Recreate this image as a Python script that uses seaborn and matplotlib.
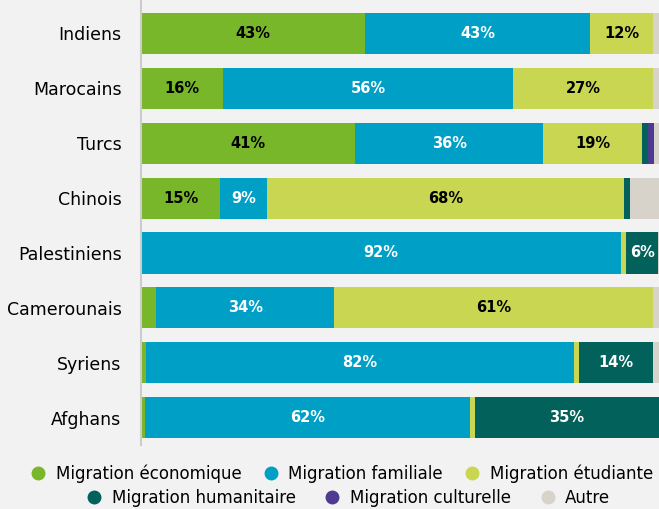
import pandas as pd
import matplotlib.pyplot as plt
import seaborn as sns
from matplotlib.lines import Line2D

# Data (share of first residence permits, %)
nationalities = ['Indiens', 'Marocains', 'Turcs', 'Chinois', 'Palestiniens',
                 'Camerounais', 'Syriens', 'Afghans']
categories = ['Migration économique', 'Migration familiale', 'Migration étudiante',
              'Migration humanitaire', 'Migration culturelle', 'Autre']
economique = [43.0, 15.7, 41.1, 15.2, 0.0, 2.9, 1.0, 0.8]
familiale = [43.2, 55.7, 36.1, 9.0, 92.1, 34.2, 82.1, 62.4]
etudiante = [12.1, 26.9, 19.0, 68.4, 1.0, 61.2, 1.0, 0.8]
humanitaire = [0.0, 0.0, 1.0, 1.2, 6.1, 0.0, 14.2, 35.4]
culturelle = [0.0, 0.0, 1.2, 0.0, 0.0, 0.0, 0.0, 0.0]
autre = [1.7, 1.7, 1.6, 6.2, 0.8, 1.7, 1.7, 0.6]

colors = ['#78B72A', '#00A0C6', '#C8D651', '#02625B', '#4F3A91', '#D7D2CA']
text_colors = ['black', 'white', 'black', 'white', 'white', 'black']

df = pd.DataFrame({'nat': nationalities})
series = [economique, familiale, etudiante, humanitaire, culturelle, autre]
for cat, vals in zip(categories, series):
    df[cat] = vals
cum = df[categories].cumsum(axis=1)

bg = '#F2F2F2'
fig = plt.figure(figsize=(6.59, 5.09), dpi=100, facecolor=bg)
ax = fig.add_axes([141 / 659, 1 - 445 / 509, 1 - 141 / 659, 445 / 509])
ax.set_facecolor(bg)

# stacked bars: draw cumulative totals from the last category backwards
for i in range(len(categories) - 1, -1, -1):
    sns.barplot(x=cum[categories[i]], y=df['nat'], orient='h', color=colors[i],
                width=0.75, saturation=1, ax=ax, edgecolor='none', linewidth=0)

# segment labels (no label on "Autre")
for i, cat in enumerate(categories[:5]):
    for j, v in enumerate(df[cat]):
        if v >= 5:
            ax.text(cum[cat][j] - v / 2, j, f'{round(v)}%', ha='center', va='center',
                    color=text_colors[i], fontsize=10.5, fontweight='bold')

ax.set_xlim(0, 99.4)
ax.set_ylim(7.5, -0.61)
ax.set_xlabel('')
ax.set_ylabel('')
ax.set_xticks([])
ax.tick_params(axis='y', length=0, pad=14, labelsize=12.5)
for s in ['top', 'right', 'bottom']:
    ax.spines[s].set_visible(False)
ax.spines['left'].set_color('#CCCCCC')
ax.spines['left'].set_linewidth(1.5)

handles = [Line2D([0], [0], marker='o', linestyle='', markersize=9,
                  markerfacecolor=c, markeredgecolor=c) for c in colors]
leg1 = fig.legend(handles[:3], categories[:3], loc='center', bbox_to_anchor=(0.515, 0.069),
                  ncol=3, frameon=False, fontsize=12, handletextpad=0.3, columnspacing=1.0,
                  handlelength=1.5)
leg2 = fig.legend(handles[3:], categories[3:], loc='center', bbox_to_anchor=(0.525, 0.022),
                  ncol=3, frameon=False, fontsize=12, handletextpad=0.3, columnspacing=1.45,
                  handlelength=1.5)

fig.savefig('out.png', dpi=100, facecolor=bg)
